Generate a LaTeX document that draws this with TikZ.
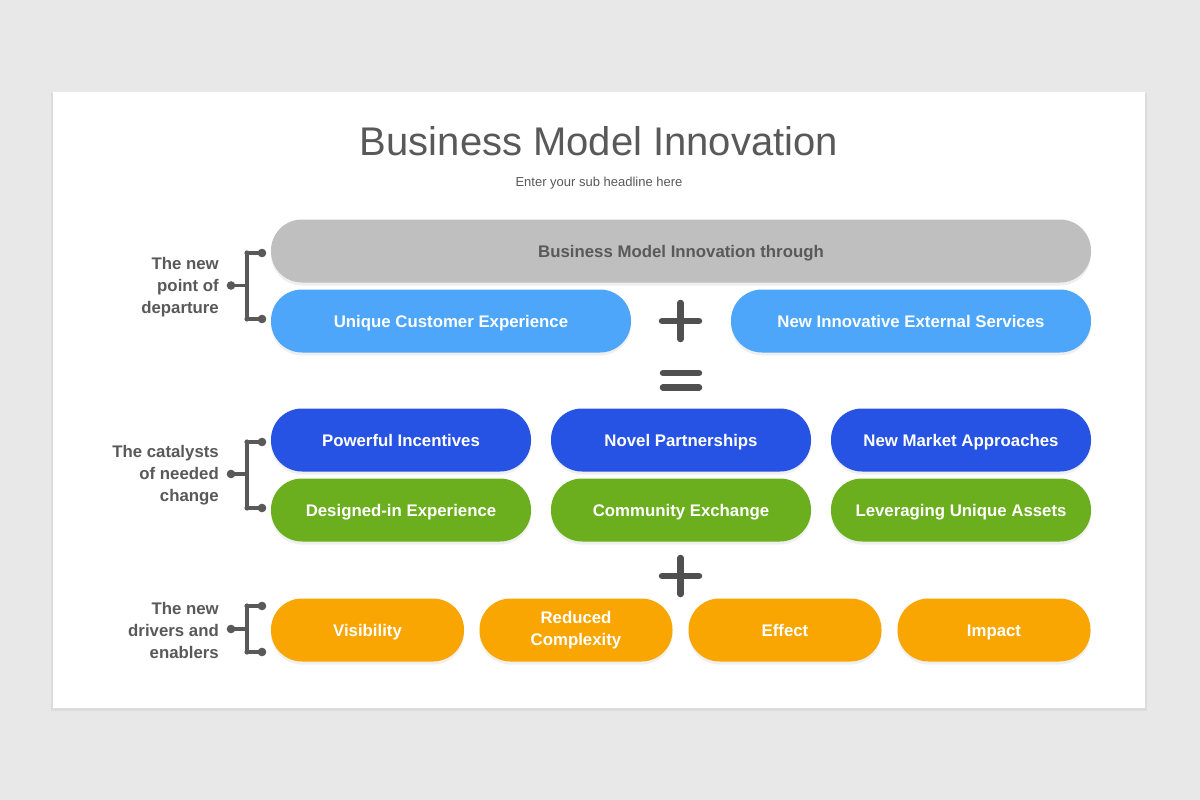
\documentclass[tikz,border=0pt]{standalone}
\usepackage{fontspec}
\setmainfont{Liberation Sans}
\usetikzlibrary{shadows}
\definecolor{bg}{HTML}{E9E8E9}
\definecolor{ink}{HTML}{595959}
\definecolor{pgray}{HTML}{BFBFBF}
\definecolor{plblue}{HTML}{4DA6FA}
\definecolor{pdblue}{HTML}{2653E3}
\definecolor{pgreen}{HTML}{6BAE1E}
\definecolor{porange}{HTML}{F9A603}
\tikzset{
  pill/.style={rectangle, rounded corners=31pt, minimum height=63pt, inner sep=0pt,
    text=white, font=\bfseries\fontsize{16.8}{21.5}\selectfont, align=center,
    drop shadow={opacity=0.12, shadow xshift=0pt, shadow yshift=-3pt}},
  oneline/.style={text height=12pt, text depth=0pt},
  side/.style={anchor=east, align=right, text=ink, font=\bfseries\fontsize{16.8}{22}\selectfont, inner sep=0pt},
  sym/.style={draw=ink!90!black, line width=6.5pt, line cap=round},
  brk/.style={draw=ink, line width=3.2pt},
  dot/.style={fill=ink, draw=none}
}
\begin{document}
\begin{tikzpicture}[x=1pt,y=-1pt]
\useasboundingbox (0,0) rectangle (1200,800);
\fill[bg] (0,0) rectangle (1200,800);
\fill[black, opacity=0.05] (51,93) rectangle (1147,711);
\fill[white] (53,92) rectangle (1145,708);

\node[text=ink, font=\fontsize{40}{48}\selectfont, inner sep=0pt] (title) at (599,141) {Business Model Innovation};
\node[text=ink, font=\fontsize{13}{15}\selectfont, inner sep=0pt] (sub) at (599,183) {Enter your sub headline here};

% row 1
\node[pill, oneline, fill=pgray, text=ink, minimum width=820pt] (through) at (681,251) {Business Model Innovation through};
\node[pill, oneline, fill=plblue, minimum width=360pt] (uce) at (451,321) {Unique Customer Experience};
\node[pill, oneline, fill=plblue, minimum width=360pt] (nies) at (911,321) {New Innovative External Services};

% row 2
\node[pill, oneline, fill=pdblue, minimum width=260pt] (pi) at (401,440) {Powerful Incentives};
\node[pill, oneline, fill=pdblue, minimum width=260pt] (np) at (681,440) {Novel Partnerships};
\node[pill, oneline, fill=pdblue, minimum width=260pt] (nma) at (961,440) {New Market Approaches};
% row 3
\node[pill, oneline, fill=pgreen, minimum width=260pt] (die) at (401,510) {Designed-in Experience};
\node[pill, oneline, fill=pgreen, minimum width=260pt] (ce) at (681,510) {Community Exchange};
\node[pill, oneline, fill=pgreen, minimum width=260pt] (lua) at (961,510) {Leveraging Unique Assets};
% row 4
\node[pill, oneline, fill=porange, minimum width=193pt] (vis) at (367.5,630) {Visibility};
\node[pill, fill=porange, minimum width=193pt] (rc) at (576,630) {Reduced\\Complexity};
\node[pill, oneline, fill=porange, minimum width=193pt] (eff) at (785,630) {Effect};
\node[pill, oneline, fill=porange, minimum width=193pt] (imp) at (994,630) {Impact};

% symbols
\draw[sym] (662,321) -- (699,321);
\draw[sym] (680.5,303) -- (680.5,339);
\draw[sym] (663,373) -- (699,373);
\draw[sym] (663,387.5) -- (699,387.5);
\draw[sym] (662,576) -- (699,576);
\draw[sym] (680.5,558) -- (680.5,594);

% side labels
\node[side] (l1) at (219,287.5) {The new\\point of\\departure};
\node[side] (l2) at (219,475) {The catalysts\\of needed\\change};
\node[side] (l3) at (219,630) {The new\\drivers and\\enablers};

% brackets
\foreach \t/\m/\b in {253/285.5/319, 442/474/508, 606/629/652}{
  \draw[brk] (262,\t) -- (247,\t) -- (247,\b) -- (262,\b);
  \draw[brk] (231,\m) -- (247,\m);
  \fill[dot] (262,\t) circle (4.3pt);
  \fill[dot] (262,\b) circle (4.3pt);
  \fill[dot] (247,\t) circle (2.6pt);
  \fill[dot] (247,\b) circle (2.6pt);
  \fill[dot] (231,\m) circle (4.3pt);
}
\end{tikzpicture}
\end{document}
